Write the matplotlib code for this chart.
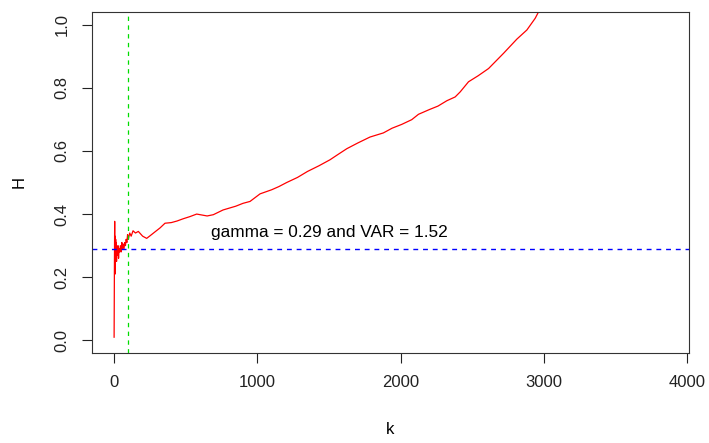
import matplotlib
matplotlib.use('Agg')
import matplotlib.pyplot as plt
import numpy as np

plt.rcParams['font.family'] = ['Liberation Sans', 'DejaVu Sans']

# H estimates against k
k = [1, 3, 5, 6, 7, 8, 9, 10, 12, 14, 16, 18, 20, 24, 28, 32, 36, 40, 45, 50,
     55, 60, 65, 70, 75, 80, 85, 90, 95, 100, 110, 120, 133, 150, 170, 200,
     228, 251, 290, 321, 356, 400, 440, 482, 530, 577, 650, 693, 761, 850,
     900, 949, 1019, 1100, 1150, 1205, 1280, 1350, 1430, 1507, 1560, 1624,
     1700, 1786, 1879, 1940, 2007, 2077, 2124, 2200, 2260, 2322, 2380, 2415,
     2473, 2540, 2613, 2717, 2810, 2880, 2938, 2961, 3050, 3857]
H = [0.01, 0.22, 0.377, 0.25, 0.33, 0.21, 0.30, 0.27, 0.32, 0.26, 0.31, 0.25,
     0.29, 0.27, 0.30, 0.26, 0.29, 0.28, 0.30, 0.28, 0.31, 0.29, 0.305, 0.29,
     0.31, 0.30, 0.32, 0.31, 0.335, 0.32, 0.34, 0.33, 0.347, 0.34, 0.345,
     0.33, 0.323, 0.331, 0.345, 0.356, 0.371, 0.373, 0.378, 0.385, 0.392,
     0.40, 0.394, 0.398, 0.413, 0.425, 0.434, 0.44, 0.464, 0.477, 0.487,
     0.50, 0.516, 0.535, 0.553, 0.572, 0.588, 0.607, 0.625, 0.644, 0.657,
     0.672, 0.684, 0.699, 0.716, 0.731, 0.742, 0.759, 0.771, 0.787, 0.819,
     0.838, 0.861, 0.909, 0.954, 0.983, 1.02, 1.04, 1.09, 1.6]

gamma = 0.29
var = 1.52
k_cut = 100

fig = plt.figure(figsize=(7.09, 4.43), dpi=100)
ax = fig.add_axes([0.1298, 0.2032, 0.842, 0.7697])

ax.plot(k, H, color='red', linewidth=0.9)
ax.axhline(gamma, color='#0000FF', linewidth=1.0, linestyle=(0, (3.5, 3.5)))
ax.axvline(k_cut, color='#00DD00', linewidth=0.9, linestyle=(0, (3.5, 3.5)))
ax.text(1500, 0.341, 'gamma = %.2f and VAR = %.2f' % (gamma, var),
        ha='center', va='center', fontsize=12.4)

ax.set_xlim(-153, 4011)
ax.set_ylim(-0.04, 1.04)
ax.set_xticks([0, 1000, 2000, 3000, 4000])
ax.set_yticks([0.0, 0.2, 0.4, 0.6, 0.8, 1.0])
ax.set_yticklabels(['0.0', '0.2', '0.4', '0.6', '0.8', '1.0'], rotation=90, va='center')
ax.tick_params(length=7, labelsize=12, pad=9, colors='#222222')
ax.set_xlabel('k', fontsize=12, labelpad=23)
ax.set_ylabel('H', fontsize=12, labelpad=20)
for s in ax.spines.values():
    s.set_color('#333333')

plt.savefig('out.png', dpi=100)
